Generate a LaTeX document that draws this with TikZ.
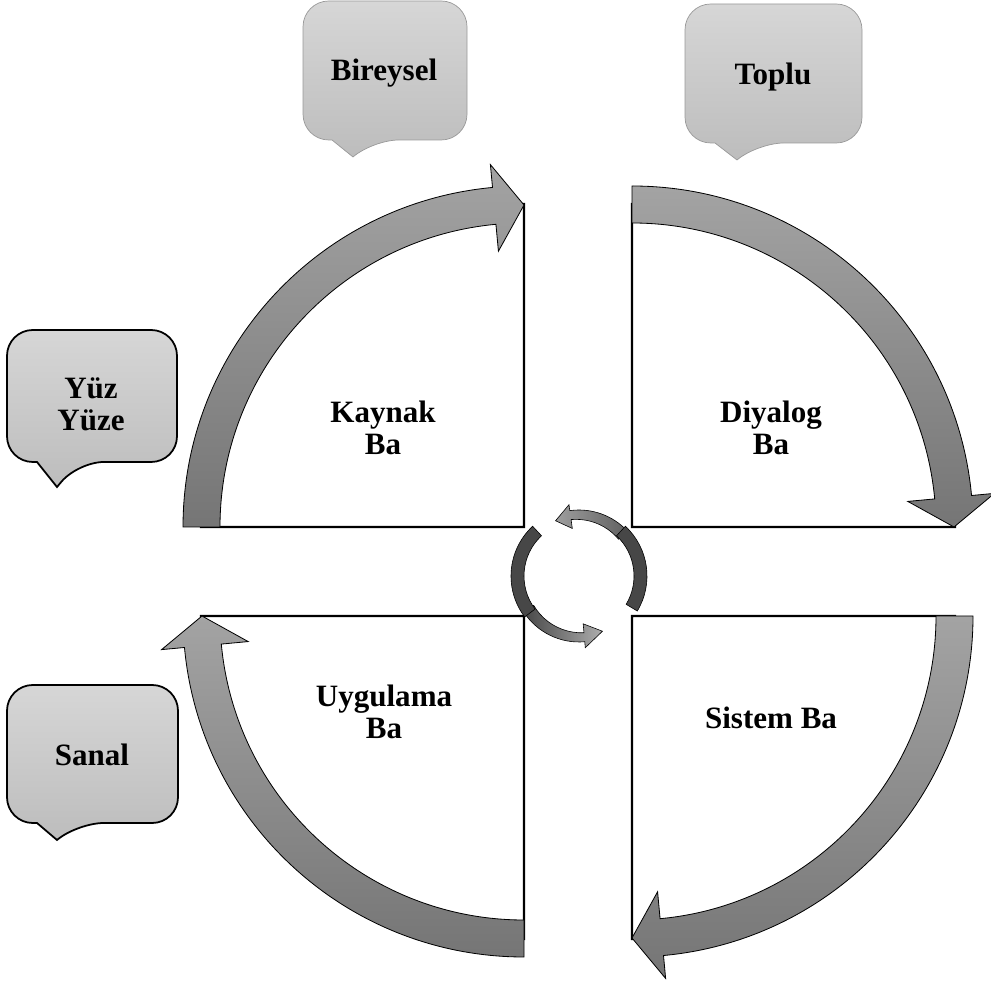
\documentclass[tikz,border=0pt]{standalone}
\usepackage{fontspec}
\setmainfont{Liberation Serif}
\usepackage{tikz}
\usetikzlibrary{positioning}

\tikzset{
	sector/.style={draw=black, line width=1.8pt, fill=white},
	band/.style={draw=black, line width=0.7pt, top color=black!36, bottom color=black!54},
	cycdark/.style={draw=black, line width=0.5pt, fill=black!72},
	cyclight/.style={draw=black, line width=0.5pt},
	bubbletop/.style={draw=black!40, line width=0.6pt, top color=black!16, bottom color=black!26},
	bubbleleft/.style={draw=black, line width=1.5pt, top color=black!16, bottom color=black!26},
	lbl/.style={align=center, inner sep=0pt, font=\fontsize{26.5}{27.5}\selectfont\bfseries}
}

\begin{document}
\begin{tikzpicture}[x=0.03cm, y=0.03cm]
	\useasboundingbox (0,0) rectangle (991,985);
	% Kaynak Ba
	\begin{scope}[shift={(524,458)}]
		\path [sector] (0,0) -- (180:323) arc [start angle=180, end angle=90, radius=323] -- cycle;
		\path [band] (180:341) arc [start angle=180, end angle=95.3, radius=341] -- (95.3:364) -- (90:322) -- (95.3:277) -- (95.3:304) arc [start angle=95.3, end angle=180, radius=304] -- cycle;
	\end{scope}
	% Diyalog Ba
	\begin{scope}[shift={(632,458)}]
		\path [sector] (0,0) -- (90:323) arc [start angle=90, end angle=0, radius=323] -- cycle;
		\path [band] (90:341) arc [start angle=90, end angle=5.3, radius=341] -- (5.3:364) -- (0:322) -- (5.3:277) -- (5.3:304) arc [start angle=5.3, end angle=90, radius=304] -- cycle;
	\end{scope}
	% Sistem Ba
	\begin{scope}[shift={(632,369)}]
		\path [sector] (0,0) -- (0:323) arc [start angle=0, end angle=-90, radius=323] -- cycle;
		\path [band] (0:341) arc [start angle=0, end angle=-84.7, radius=341] -- (-84.7:364) -- (-90:322) -- (-84.7:277) -- (-84.7:304) arc [start angle=-84.7, end angle=0, radius=304] -- cycle;
	\end{scope}
	% Uygulama Ba
	\begin{scope}[shift={(524,369)}]
		\path [sector] (0,0) -- (-90:323) arc [start angle=-90, end angle=-180, radius=323] -- cycle;
		\path [band] (-90:341) arc [start angle=-90, end angle=-174.7, radius=341] -- (-174.7:364) -- (-180:322) -- (-174.7:277) -- (-174.7:304) arc [start angle=-174.7, end angle=-90, radius=304] -- cycle;
	\end{scope}
	% small cycle in the middle
	\begin{scope}[shift={(579,409)}]
		\path [cyclight, left color=black!72, right color=black!32] (213:66) arc [start angle=213, end angle=275, radius=66] -- (275:72) -- (293:60) -- (275:48) -- (275:57) -- plot [domain=275:213, samples=12] (\x:{57-3*(275-\x)/62}) -- cycle;
		\path [cyclight, right color=black!62, left color=black!38] (403:66) arc [start angle=403, end angle=458, radius=66] -- (458:72) -- (473:60) -- (458:48) -- (458:57) -- plot [domain=458:403, samples=12] (\x:{57-3*(458-\x)/55}) -- cycle;
		\path [cycdark] (133:68) arc [start angle=133, end angle=217, radius=68] -- (217:55) arc [start angle=217, end angle=133, radius=55] -- cycle;
		\path [cycdark] (329:68) arc [start angle=329, end angle=407, radius=68] -- (407:55) arc [start angle=407, end angle=329, radius=55] -- cycle;
	\end{scope}
	% callouts
	\path [bubbletop] (385,984) [rounded corners=22] -- (467,984) -- (467,845) -- (373,845) [sharp corners] -- (353,828) -- (332,845) [rounded corners=22] -- (303,845) -- (303,984) -- cycle;
	\path [bubbletop] (773,981) [rounded corners=22] -- (862,981) -- (862,842) -- (758,842) [sharp corners] -- (737,825) -- (715,842) [rounded corners=22] -- (685,842) -- (685,981) -- cycle;
	\path [bubbleleft] (92,655) [rounded corners=22] -- (177,655) -- (177,523) -- (78,523) [sharp corners] -- (57,498) -- (37,523) [rounded corners=22] -- (7,523) -- (7,655) -- cycle;
	\path [bubbleleft] (92,300) [rounded corners=22] -- (178,300) -- (178,162) -- (78,162) [sharp corners] -- (57,145) -- (37,162) [rounded corners=22] -- (7,162) -- (7,300) -- cycle;
	% labels
	\node [lbl] (bireysel) at (384,912) {Bireysel};
	\node [lbl] (toplu) at (773,908) {Toplu};
	\node [lbl] (yuzyuze) at (91,581) {Yüz\\Yüze};
	\node [lbl] (sanal) at (92,230) {Sanal};
	\node [lbl] (kaynak) at (383,557) {Kaynak\\Ba};
	\node [lbl] (diyalog) at (771,557) {Diyalog\\Ba};
	\node [lbl] (sistem) at (771,267) {Sistem Ba};
	\node [lbl] (uygulama) at (384,273) {Uygulama\\Ba};
\end{tikzpicture}
\end{document}
